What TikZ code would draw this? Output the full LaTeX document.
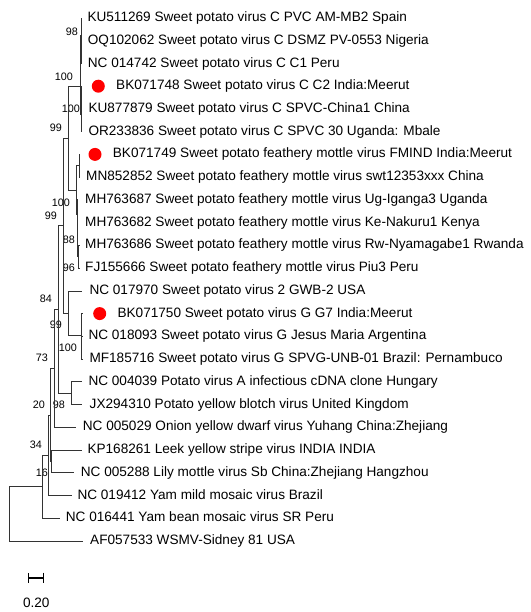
\documentclass[tikz,border=0pt]{standalone}
\usepackage{fontspec}
\setmainfont{Liberation Sans}
\usetikzlibrary{arrows.meta, positioning}

\begin{document}
\begin{tikzpicture}[
    x=1pt, y=-1pt,
    treeline/.style={draw=black!80, line width=0.8pt},
    leaf/.style={anchor=west, inner sep=0pt, text height=0.716em, text depth=0pt, font=\fontsize{13.6}{16}\selectfont},
    boot/.style={anchor=east, inner sep=0pt, text height=0.716em, text depth=0pt, font=\fontsize{10.8}{12}\selectfont},
    reddot/.style={circle, fill=red, inner sep=0pt, minimum size=13pt}
]
\useasboundingbox (0,0) rectangle (530,612);

% leaf tips
\coordinate (t_ku511269) at (81.5,18.0);
\coordinate (t_oq102062) at (81.8,40.7);
\coordinate (t_nc014742) at (81.8,63.5);
\coordinate (t_bk071748) at (81.8,86.2);
\coordinate (t_ku877879) at (81.8,109.0);
\coordinate (t_or233836) at (81.8,131.7);
\coordinate (t_bk071749) at (79.5,154.4);
\coordinate (t_mn852852) at (79.5,177.2);
\coordinate (t_mh763687) at (78.4,199.9);
\coordinate (t_mh763682) at (78.4,222.7);
\coordinate (t_mh763686) at (79.4,245.4);
\coordinate (t_fj155666) at (79.4,268.1);
\coordinate (t_nc017970) at (81.7,290.9);
\coordinate (t_bk071750) at (82.0,313.6);
\coordinate (t_nc018093) at (82.0,336.4);
\coordinate (t_mf185716) at (82.0,359.1);
\coordinate (t_nc004039) at (81.7,381.8);
\coordinate (t_jx294310) at (81.7,404.6);
\coordinate (t_nc005029) at (76.0,427.3);
\coordinate (t_kp168261) at (81.7,450.1);
\coordinate (t_nc005288) at (74.0,472.8);
\coordinate (t_nc019412) at (71.7,495.5);
\coordinate (t_nc016441) at (59.5,518.3);
\coordinate (t_af057533) at (82.5,541.0);

% leaf labels
\node (ku511269) [leaf] at (87.3,18.0) {KU511269 Sweet potato virus C PVC AM-MB2 Spain};
\node (oq102062) [leaf] at (87.7,40.7) {OQ102062 Sweet potato virus C DSMZ PV-0553 Nigeria};
\node (nc014742) [leaf] at (87.7,63.5) {NC 014742 Sweet potato virus C C1 Peru};
\node (dot_bk071748) [reddot] at (98.3,86.2) {};
\node (bk071748) [leaf, right=11pt of dot_bk071748] {BK071748 Sweet potato virus C C2 India:Meerut};
\node (ku877879) [leaf] at (88.3,109.0) {KU877879 Sweet potato virus C SPVC-China1 China};
\node (or233836) [leaf] at (88.3,131.7) {OR233836 Sweet potato virus C SPVC 30 Uganda: Mbale};
\node (dot_bk071749) [reddot] at (95.0,154.4) {};
\node (bk071749) [leaf, right=11pt of dot_bk071749] {BK071749 Sweet potato feathery mottle virus FMIND India:Meerut};
\node (mn852852) [leaf] at (86.0,177.2) {MN852852 Sweet potato feathery mottle virus swt12353xxx China};
\node (mh763687) [leaf] at (85.0,199.9) {MH763687 Sweet potato feathery mottle virus Ug-Iganga3 Uganda};
\node (mh763682) [leaf] at (85.0,222.7) {MH763682 Sweet potato feathery mottle virus Ke-Nakuru1 Kenya};
\node (mh763686) [leaf] at (85.0,245.4) {MH763686 Sweet potato feathery mottle virus Rw-Nyamagabe1 Rwanda};
\node (fj155666) [leaf] at (85.0,268.1) {FJ155666 Sweet potato feathery mottle virus Piu3 Peru};
\node (nc017970) [leaf] at (89.3,290.9) {NC 017970 Sweet potato virus 2 GWB-2 USA};
\node (dot_bk071750) [reddot] at (99.7,313.6) {};
\node (bk071750) [leaf, right=11pt of dot_bk071750] {BK071750 Sweet potato virus G G7 India:Meerut};
\node (nc018093) [leaf] at (88.3,336.4) {NC 018093 Sweet potato virus G Jesus Maria Argentina};
\node (mf185716) [leaf] at (89.3,359.1) {MF185716 Sweet potato virus G SPVG-UNB-01 Brazil: Pernambuco};
\node (nc004039) [leaf] at (88.3,381.8) {NC 004039 Potato virus A infectious cDNA clone Hungary};
\node (jx294310) [leaf] at (89.5,404.6) {JX294310 Potato yellow blotch virus United Kingdom};
\node (nc005029) [leaf] at (82.7,427.3) {NC 005029 Onion yellow dwarf virus Yuhang China:Zhejiang};
\node (kp168261) [leaf] at (87.3,450.1) {KP168261 Leek yellow stripe virus INDIA INDIA};
\node (nc005288) [leaf] at (80.7,472.8) {NC 005288 Lily mottle virus Sb China:Zhejiang Hangzhou};
\node (nc019412) [leaf] at (77.3,495.5) {NC 019412 Yam mild mosaic virus Brazil};
\node (nc016441) [leaf] at (65.7,518.3) {NC 016441 Yam bean mosaic virus SR Peru};
\node (af057533) [leaf] at (90.0,541.0) {AF057533 WSMV-Sidney 81 USA};

% internal nodes
\coordinate (spvc_a) at (81.2,52.1);
\coordinate (spvc_b) at (80.9,35.1);
\coordinate (spvc_c) at (81.2,97.6);
\coordinate (spvc_d) at (80.9,114.7);
\coordinate (spvc_root) at (80.6,86.2);
\coordinate (spfmv_a) at (79.3,165.8);
\coordinate (spfmv_b) at (78.8,256.8);
\coordinate (spfmv_c) at (77.4,214.2);
\coordinate (spfmv_root) at (76.7,190.0);
\coordinate (spvc_spfmv) at (68.3,138.1);
\coordinate (sweet_clade) at (63.3,225.6);
\coordinate (spv2_spvg) at (68.3,313.0);
\coordinate (spvg_root) at (81.5,335.5);
\coordinate (pva_pybv) at (71.7,393.2);
\coordinate (node_84) at (58.3,309.4);
\coordinate (node_73) at (54.0,368.4);
\coordinate (lysv_lmov) at (51.7,461.5);
\coordinate (node_20) at (50.0,415.0);
\coordinate (node_34) at (48.3,455.3);
\coordinate (node_yb) at (42.7,486.8);
\coordinate (tree_root) at (9.0,513.9);

% bootstrap values
\node (bs_spvc_b) [boot] at (78,31.7) {98};
\node (bs_spvc_root) [boot] at (73,76.7) {100};
\node (bs_spvc_c) [boot] at (80,109.0) {100};
\node (bs_spvc_spfmv) [boot] at (62,128.0) {99};
\node (bs_spfmv_root) [boot] at (70,203.0) {100};
\node (bs_sweet_clade) [boot] at (57,215.7) {99};
\node (bs_spfmv_c) [boot] at (75,240.0) {88};
\node (bs_spfmv_b) [boot] at (75,268.0) {96};
\node (bs_node_84) [boot] at (52,299.0) {84};
\node (bs_spv2_spvg) [boot] at (62,325.0) {99};
\node (bs_spvg_root) [boot] at (77,348.0) {100};
\node (bs_node_73) [boot] at (48,358.0) {73};
\node (bs_node_20) [boot] at (45,404.5) {20};
\node (bs_pva_pybv) [boot] at (65,405.0) {98};
\node (bs_node_34) [boot] at (42,444.5) {34};
\node (bs_lysv_lmov) [boot] at (48,473.0) {16};

% branches
\draw[treeline] (spvc_a) |- (t_oq102062);
\draw[treeline] (spvc_a) |- (t_nc014742);
\draw[treeline] (spvc_b) |- (t_ku511269);
\draw[treeline] (spvc_b) |- (spvc_a);
\draw[treeline] (spvc_c) |- (t_bk071748);
\draw[treeline] (spvc_c) |- (t_ku877879);
\draw[treeline] (spvc_d) |- (spvc_c);
\draw[treeline] (spvc_d) |- (t_or233836);
\draw[treeline] (spvc_root) |- (spvc_b);
\draw[treeline] (spvc_root) |- (spvc_d);
\draw[treeline] (spfmv_a) |- (t_bk071749);
\draw[treeline] (spfmv_a) |- (t_mn852852);
\draw[treeline] (spfmv_b) |- (t_mh763686);
\draw[treeline] (spfmv_b) |- (t_fj155666);
\draw[treeline] (spfmv_c) |- (t_mh763687);
\draw[treeline] (spfmv_c) |- (t_mh763682);
\draw[treeline] (spfmv_c) |- (spfmv_b);
\draw[treeline] (spfmv_root) |- (spfmv_a);
\draw[treeline] (spfmv_root) |- (spfmv_c);
\draw[treeline] (spvc_spfmv) |- (spvc_root);
\draw[treeline] (spvc_spfmv) |- (spfmv_root);
\draw[treeline] (spvg_root) |- (t_bk071750);
\draw[treeline] (spvg_root) |- (t_nc018093);
\draw[treeline] (spvg_root) |- (t_mf185716);
\draw[treeline] (spv2_spvg) |- (t_nc017970);
\draw[treeline] (spv2_spvg) |- (spvg_root);
\draw[treeline] (sweet_clade) |- (spvc_spfmv);
\draw[treeline] (sweet_clade) |- (spv2_spvg);
\draw[treeline] (pva_pybv) |- (t_nc004039);
\draw[treeline] (pva_pybv) |- (t_jx294310);
\draw[treeline] (node_84) |- (sweet_clade);
\draw[treeline] (node_84) |- (pva_pybv);
\draw[treeline] (node_73) |- (node_84);
\draw[treeline] (node_73) |- (t_nc005029);
\draw[treeline] (lysv_lmov) |- (t_kp168261);
\draw[treeline] (lysv_lmov) |- (t_nc005288);
\draw[treeline] (node_20) |- (node_73);
\draw[treeline] (node_20) |- (lysv_lmov);
\draw[treeline] (node_34) |- (node_20);
\draw[treeline] (node_34) |- (t_nc019412);
\draw[treeline] (node_yb) |- (node_34);
\draw[treeline] (node_yb) |- (t_nc016441);
\draw[treeline] (tree_root) |- (node_yb);
\draw[treeline] (tree_root) |- (t_af057533);

% scale bar
\coordinate (bar_left) at (27.7,577.7);
\coordinate (bar_right) at (44.3,577.7);
\draw[line width=1.6pt, {Bar[width=10pt]}-{Bar[width=10pt]}] (bar_left) -- (bar_right);
\node (bar_label) [leaf, anchor=center] at (36.3,604.0) {0.20};
\end{tikzpicture}
\end{document}
